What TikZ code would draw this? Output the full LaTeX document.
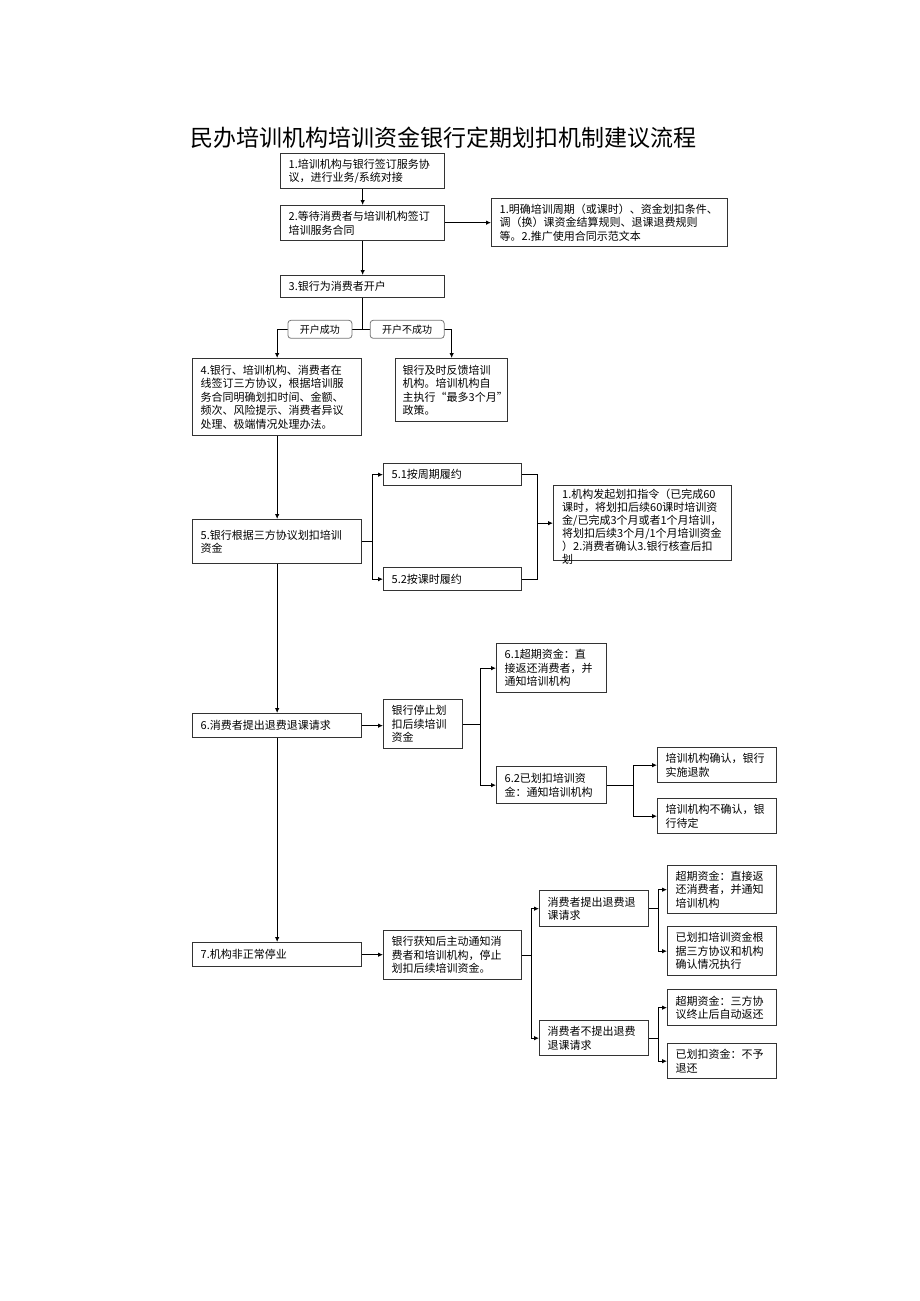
\documentclass[tikz,border=0pt]{standalone}
\usepackage{fontspec}
\setmainfont{Noto Sans CJK SC}
\usetikzlibrary{calc,arrows.meta,positioning}
\definecolor{edge}{HTML}{333333}
\definecolor{tagline}{HTML}{777777}
\newcommand{\boxfont}{\fontsize{11pt}{13.5pt}\selectfont}

\begin{document}
\begin{tikzpicture}[x=1pt, y=-1pt, >={Latex[length=5pt,width=4.5pt]}, line/.style={draw=black, line width=0.9pt}]
% Define styles for blocks and branch labels
\tikzstyle{block} = [draw=edge, fill=white, line width=1.3pt, rectangle, anchor=north west, inner xsep=8pt, inner ysep=2pt, align=left, font=\boxfont]
\tikzstyle{tag} = [draw=tagline, fill=white, rounded corners=3pt, line width=0.8pt, minimum height=18pt, inner xsep=12pt, inner ysep=1pt, font=\fontsize{10pt}{12pt}\selectfont]

\useasboundingbox (0,0) rectangle (920,1301);

% Title
\node (title) at (443,138) {\fontsize{23pt}{27pt}\selectfont 民办培训机构培训资金银行定期划扣机制建议流程};

% Nodes placement
\node [block, text width=148pt, minimum height=35pt] (b1) at (280,153) {1.培训机构与银行签订服务协\\议，进行业务/系统对接};
\node [block, text width=148pt, minimum height=35pt] (b2) at (280,205) {2.等待消费者与培训机构签订\\培训服务合同};
\node [block, text width=220pt, minimum height=48pt] (note) at (491,198) {1.明确培训周期（或课时）、资金划扣条件、\\调（换）课资金结算规则、退课退费规则\\等。2.推广使用合同示范文本};
\node [block, text width=148pt, minimum height=22pt] (b3) at (280,275) {3.银行为消费者开户};

\node [block, text width=153pt, minimum height=77pt] (b4) at (192,358) {4.银行、培训机构、消费者在\\线签订三方协议，根据培训服\\务合同明确划扣时间、金额、\\频次、风险提示、消费者异议\\处理、极端情况处理办法。};
\node [block, inner xsep=7pt, text width=98pt, minimum height=63pt] (fb) at (395,358) {银行及时反馈培训\\机构。培训机构自\\主执行“最多3个月”\\政策。};

\node [block, text width=153pt, minimum height=44pt] (b5) at (192,519) {5.银行根据三方协议划扣培训\\资金};
\node [block, text width=122pt, minimum height=22pt] (b51) at (383,463) {5.1按周期履约};
\node [block, text width=122pt, minimum height=23pt] (b52) at (383,567) {5.2按课时履约};
\node [block, minimum width=178pt, minimum height=75pt] (big) at (553,485) {};
\node [anchor=north west, inner xsep=9pt, inner ysep=4pt, text width=163pt, align=left, font=\fontsize{11pt}{13pt}\selectfont] (bigtxt) at (big.north west) {1.机构发起划扣指令（已完成60\\课时，将划扣后续60课时培训资\\金/已完成3个月或者1个月培训，\\将划扣后续3个月/1个月培训资金\\）2.消费者确认3.银行核查后扣\\划};

\node [block, text width=153pt, minimum height=24pt] (b6) at (192,713) {6.消费者提出退费退课请求};
\node [block, text width=63pt, minimum height=49pt] (stop) at (383,699) {银行停止划\\扣后续培训\\资金};
\node [block, text width=94pt, minimum height=49pt] (b61) at (496,643) {6.1超期资金：直\\接返还消费者，并\\通知培训机构};
\node [block, text width=94pt, minimum height=37pt] (b62) at (496,766) {6.2已划扣培训资\\金：通知培训机构};
\node [block, text width=103pt, minimum height=35pt] (b621) at (657,747) {培训机构确认，银行\\实施退款};
\node [block, text width=103pt, minimum height=35pt] (b622) at (657,798) {培训机构不确认，银\\行待定};

\node [block, text width=153pt, minimum height=24pt] (b7) at (192,942) {7.机构非正常停业};
\node [block, text width=122pt, minimum height=49pt] (notify) at (383,930) {银行获知后主动通知消\\费者和培训机构，停止\\划扣后续培训资金。};
\node [block, text width=93pt, minimum height=36pt] (b71) at (539,890) {消费者提出退费退\\课请求};
\node [block, text width=93pt, minimum height=35pt] (b72) at (539,1020) {消费者不提出退费\\退课请求};
\node [block, text width=93pt, minimum height=48pt] (b711) at (667,865) {超期资金：直接返\\还消费者，并通知\\培训机构};
\node [block, text width=93pt, minimum height=49pt] (b712) at (667,926) {已划扣培训资金根\\据三方协议和机构\\确认情况执行};
\node [block, text width=93pt, minimum height=36pt] (b721) at (667,989) {超期资金：三方协\\议终止后自动返还};
\node [block, text width=93pt, minimum height=35pt] (b722) at (667,1043) {已划扣资金：不予\\退还};

% Branch points
\coordinate (split) at ($(b3.south)+(0,31)$);
\coordinate (s5) at ($(b5.east)+(10,0)$);
\coordinate (m5) at ($(b51.east)+(15,0)$);
\coordinate (s6) at ($(stop.east)+(17,0)$);
\coordinate (s62) at ($(b62.east)+(26,0)$);
\coordinate (s7) at ($(notify.east)+(9,0)$);
\coordinate (s71) at ($(b71.east)+(9,0)$);
\coordinate (s72) at ($(b72.east)+(9,0)$);

% Draw edges
\draw[line,->] (b1.south) -- (b2.north);
\draw[line,->] (b2.south) -- (b3.north);
\draw[line,->] (b2.east |- note.west) -- (note.west);
\draw[line] (b3.south) -- (split);
\draw[line,->] (split) -- node[tag] {开户成功} (split -| b4.north) -- (b4.north);
\draw[line,->] (split) -- node[tag] {开户不成功} (split -| fb.north) -- (fb.north);

% Main column
\draw[line,->] (b4.south) -- (b5.north);
\draw[line,->] (b5.south) -- (b6.north);
\draw[line,->] (b6.south) -- (b7.north);

% Step 5
\draw[line] (b5.east) -- (s5);
\draw[line,->] (s5) |- (b51.west);
\draw[line,->] (s5) |- (b52.west);
\draw[line] (b51.east) -- (m5) |- (b52.east);
\draw[line,->] (m5 |- big.west) -- (big.west);

% Step 6
\draw[line,->] (b6.east) -- (b6.east -| stop.west);
\draw[line] (stop.east) -- (s6);
\draw[line,->] (s6) |- (b61.west);
\draw[line,->] (s6) |- (b62.west);
\draw[line] (b62.east) -- (s62);
\draw[line,->] (s62) |- (b621.west);
\draw[line,->] (s62) |- (b622.west);

% Step 7
\draw[line,->] (b7.east) -- (b7.east -| notify.west);
\draw[line] (notify.east) -- (s7);
\draw[line,->] (s7) |- (b71.west);
\draw[line,->] (s7) |- (b72.west);
\draw[line] (b71.east) -- (s71);
\draw[line,->] (s71) |- (b711.west);
\draw[line,->] (s71) |- (b712.west);
\draw[line] (b72.east) -- (s72);
\draw[line,->] (s72) |- (b721.west);
\draw[line,->] (s72) |- (b722.west);
\end{tikzpicture}
\end{document}
